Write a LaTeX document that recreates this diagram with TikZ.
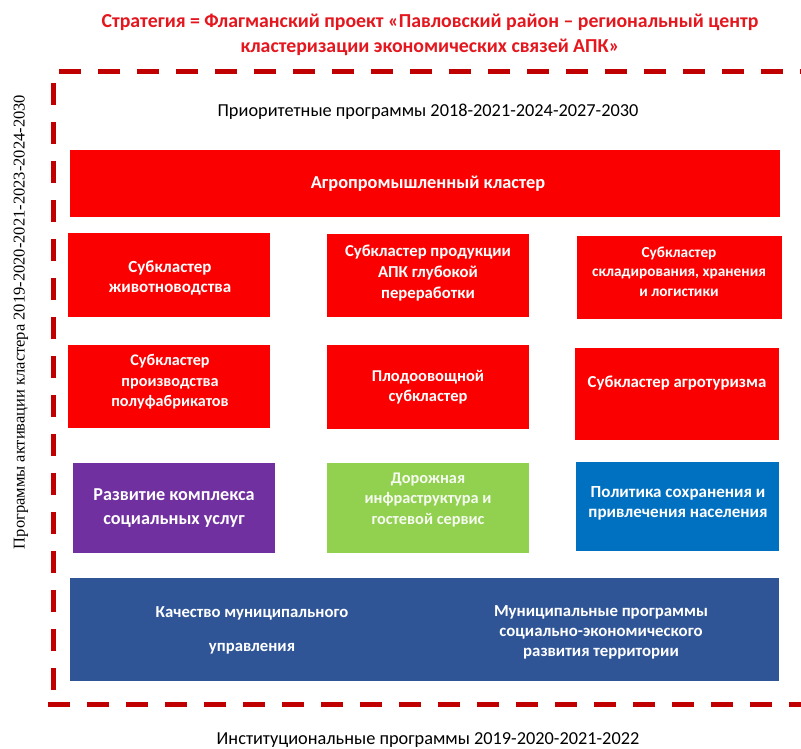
\documentclass[tikz,border=0pt]{standalone}
\usepackage{fontspec}
\setmainfont{Carlito}
\newfontfamily\serifvert{Liberation Serif}
\definecolor{titlered}{RGB}{228,22,30}
\definecolor{framered}{RGB}{192,0,0}
\definecolor{boxred}{RGB}{250,0,0}
\definecolor{boxpurple}{RGB}{112,48,160}
\definecolor{boxgreen}{RGB}{146,208,80}
\definecolor{boxblue}{RGB}{0,112,192}
\definecolor{boxnavy}{RGB}{47,85,151}
\begin{document}
\begin{tikzpicture}[x=1pt,y=-1pt,
  panel/.style={draw=none, anchor=north west, inner sep=0pt},
  boxtxt/.style={text=white, font=\bfseries\fontsize{16.5}{20.5}\selectfont, align=center, inner sep=0pt},
  frameline/.style={draw=framered, line width=5pt, dash pattern=on 22pt off 17pt},
  plaintxt/.style={font=\fontsize{18.3}{20}\selectfont, inner sep=0pt}]
\useasboundingbox (0,0) rectangle (801,749);
% title
\node[font=\bfseries\fontsize{19.8}{25}\selectfont, text=titlered, align=center, inner sep=0pt] (title) at (430,34.5)
  {Стратегия = Флагманский проект «Павловский район – региональный центр\\кластеризации экономических связей АПК»};
% frame
\coordinate (ftl) at (53,72);
\coordinate (ftr) at (801,72);
\coordinate (fbl) at (53,690);
\coordinate (bbl) at (48,704);
\coordinate (bbr) at (801,704);
\draw[frameline] (fbl) -- (ftl) -- (ftr);
\draw[frameline] (bbl) -- (bbr);
% side labels
\node[plaintxt] (prio) at (428,112) {Приоритетные программы 2018-2021-2024-2027-2030};
\node[plaintxt] (inst) at (428,740) {Институциональные программы 2019-2020-2021-2022};
\node[font=\serifvert\fontsize{16.5}{20}\selectfont, rotate=90, inner sep=0pt] (act) at (21,322)
  {Программы активации кластера 2019-2020-2021-2023-2024-2030};
% agro cluster
\node[panel, fill=boxred, minimum width=710pt, minimum height=67pt] (agro) at (70,150) {};
\node[boxtxt, font=\bfseries\fontsize{18.3}{20}\selectfont] (agrot) at (428,184) {Агропромышленный кластер};
% row 2
\node[panel, fill=boxred, minimum width=202pt, minimum height=84pt] (b21) at (68,233) {};
\node[panel, fill=boxred, minimum width=202pt, minimum height=83pt] (b22) at (327,234) {};
\node[panel, fill=boxred, minimum width=205pt, minimum height=83pt] (b23) at (577,236) {};
\node[boxtxt, font=\bfseries\fontsize{17}{20.5}\selectfont] (t21) at (170,278) {Субкластер\\животноводства};
\node[boxtxt, font=\bfseries\fontsize{16.7}{21}\selectfont] (t22) at (428,273) {Субкластер продукции\\АПК глубокой\\переработки};
\node[boxtxt, font=\bfseries\fontsize{15.3}{19.5}\selectfont] (t23) at (679,271.5) {Субкластер\\складирования, хранения\\и логистики};
% row 3
\node[panel, fill=boxred, minimum width=202pt, minimum height=83pt] (b31) at (68,345) {};
\node[panel, fill=boxred, minimum width=202pt, minimum height=84pt] (b32) at (327,345) {};
\node[panel, fill=boxred, minimum width=204pt, minimum height=92pt] (b33) at (575,348) {};
\node[boxtxt, font=\bfseries\fontsize{16.2}{20.5}\selectfont] (t31) at (170,382) {Субкластер\\производства\\полуфабрикатов};
\node[boxtxt, font=\bfseries\fontsize{16.5}{20}\selectfont] (t32) at (428,387.5) {Плодоовощной\\субкластер};
\node[boxtxt, font=\bfseries\fontsize{16.8}{20}\selectfont] (t33) at (677,383) {Субкластер агротуризма};
% row 4
\node[panel, fill=boxpurple, minimum width=202pt, minimum height=90pt] (b41) at (73,463) {};
\node[panel, fill=boxgreen, minimum width=202pt, minimum height=90pt] (b42) at (327,463) {};
\node[panel, fill=boxblue, minimum width=203pt, minimum height=89pt] (b43) at (576,462) {};
\node[boxtxt, font=\bfseries\fontsize{18.2}{24.5}\selectfont] (t41) at (174,508) {Развитие комплекса\\социальных услуг};
\node[boxtxt, text=white!92!boxgreen, font=\bfseries\fontsize{16.3}{20.5}\selectfont] (t42) at (428,499.5) {Дорожная\\инфраструктура и\\гостевой сервис};
\node[boxtxt, font=\bfseries\fontsize{17}{19.5}\selectfont] (t43) at (678,503.5) {Политика сохранения и\\привлечения населения};
% bottom
\node[panel, fill=boxnavy, minimum width=709pt, minimum height=103pt] (b5) at (70,578) {};
\node[boxtxt, font=\bfseries\fontsize{16.7}{34}\selectfont] (t51) at (252,630) {Качество муниципального\\управления};
\node[boxtxt, font=\bfseries\fontsize{16.8}{20}\selectfont] (t52) at (601,632) {Муниципальные программы\\социально-экономического\\развития территории};
\end{tikzpicture}
\end{document}
